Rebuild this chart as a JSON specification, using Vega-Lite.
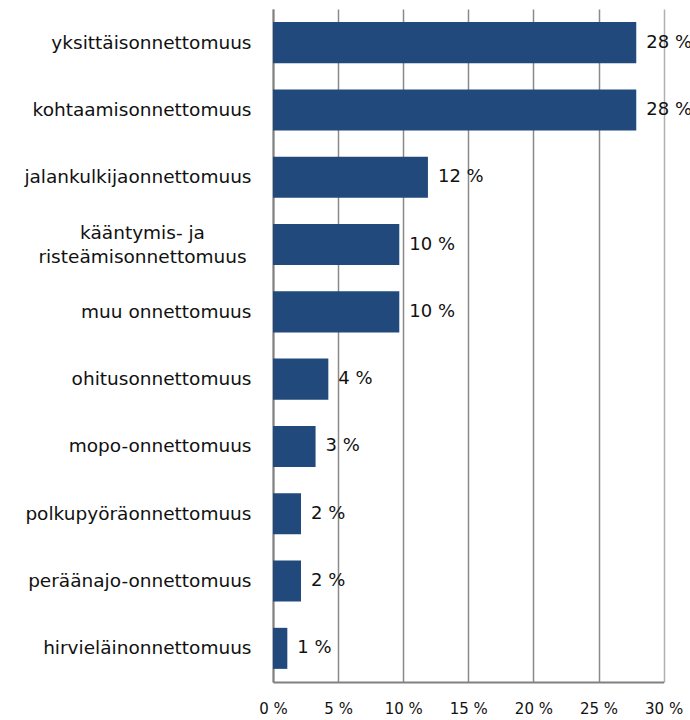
{
  "$schema": "https://vega.github.io/schema/vega-lite/v6.json",
  "autosize": "none",
  "width": 390.6,
  "height": 673,
  "padding": {"left": 273, "top": 9, "right": 26.4, "bottom": 38},
  "background": "white",
  "config": {"view": {"stroke": null}},
  "data": {
    "values": [
      {"type": "yksittäisonnettomuus", "value": 27.9, "label": "28 %"},
      {"type": "kohtaamisonnettomuus", "value": 27.9, "label": "28 %"},
      {"type": "jalankulkijaonnettomuus", "value": 11.9, "label": "12 %"},
      {"type": "kääntymis- ja risteämisonnettomuus", "value": 9.7, "label": "10 %"},
      {"type": "muu onnettomuus", "value": 9.7, "label": "10 %"},
      {"type": "ohitusonnettomuus", "value": 4.25, "label": "4 %"},
      {"type": "mopo-onnettomuus", "value": 3.27, "label": "3 %"},
      {"type": "polkupyöräonnettomuus", "value": 2.15, "label": "2 %"},
      {"type": "peräänajo-onnettomuus", "value": 2.15, "label": "2 %"},
      {"type": "hirvieläinonnettomuus", "value": 1.1, "label": "1 %"}
    ]
  },
  "encoding": {
    "y": {
      "field": "type",
      "type": "nominal",
      "sort": null,
      "scale": {"paddingInner": 0.39, "paddingOuter": 0.195},
      "axis": {
        "title": null,
        "ticks": false,
        "domainColor": "#808080",
        "domainWidth": 2,
        "labelFont": "DejaVu Sans",
        "labelFontSize": 18.5,
        "labelColor": "#111111",
        "labelPadding": {"condition": {"test": "datum.value == 'kääntymis- ja risteämisonnettomuus'", "value": 131}, "value": 22},
        "labelAlign": {"condition": {"test": "datum.value == 'kääntymis- ja risteämisonnettomuus'", "value": "center"}, "value": "right"},
        "labelOffset": {"condition": {"test": "datum.value == 'kääntymis- ja risteämisonnettomuus'", "value": -12}, "value": 0},
        "labelLineHeight": 24,
        "labelLimit": 300,
        "labelExpr": "datum.value == 'kääntymis- ja risteämisonnettomuus' ? ['kääntymis- ja', 'risteämisonnettomuus'] : datum.label"
      }
    }
  },
  "layer": [
    {
      "mark": {"type": "bar", "color": "#22497B"},
      "encoding": {
        "x": {
          "field": "value",
          "type": "quantitative",
          "scale": {"domain": [0, 30], "nice": false},
          "axis": {
            "title": null,
            "values": [0, 5, 10, 15, 20, 25, 30],
            "labelExpr": "datum.value + ' %'",
            "grid": true,
            "gridColor": {"condition": {"test": "datum.value == 30", "value": "#b0b0b0"}, "value": "#8a8a8a"},
            "gridWidth": 1.5,
            "ticks": false,
            "domainColor": "#808080",
            "domainWidth": 2,
            "labelFont": "DejaVu Sans",
            "labelFontSize": 15,
            "labelColor": "#111111",
            "labelPadding": 19,
            "labelFlush": false
          }
        }
      }
    },
    {
      "mark": {"type": "text", "align": "left", "baseline": "middle", "dx": 10, "font": "DejaVu Sans", "fontSize": 18, "color": "#111111"},
      "encoding": {
        "x": {"field": "value", "type": "quantitative"},
        "text": {"field": "label"}
      }
    }
  ]
}
